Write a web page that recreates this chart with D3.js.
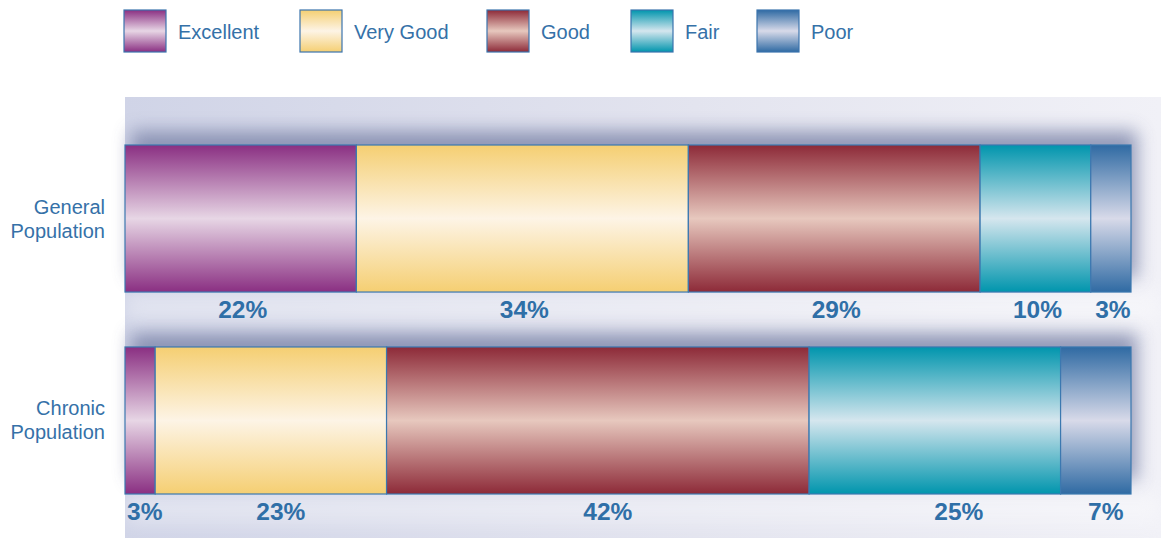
<!DOCTYPE html>
<html>
<head>
<meta charset="utf-8">
<script src="https://cdn.jsdelivr.net/npm/d3@7"></script>
<style>
  body { margin: 0; background: #fff; }
  svg text { font-family: "Liberation Sans", Arial, sans-serif; }
</style>
</head>
<body>
<svg id="chart" width="1161" height="538"></svg>
<script>
// data
const ratings = ['Excellent', 'Very Good', 'Good', 'Fair', 'Poor'];
const groups = [['General', 'Population'], ['Chronic', 'Population']];
// segment lengths as drawn (percent)
const generalShare = [23, 33, 29, 11, 4];
const chronicShare = [3, 23, 42, 25, 7];
// printed percentages
const generalLabels = ['22%', '34%', '29%', '10%', '3%'];
const chronicLabels = ['3%', '23%', '42%', '25%', '7%'];

const edgeColors = ['#8a2f82', '#f5cf72', '#8d2a38', '#0095ad', '#2f6aa3'];
const midColors = ['#e7d6e5', '#fdf4e6', '#e7c8be', '#d5e6ee', '#d8dae9'];

const svg = d3.select('#chart');
const defs = svg.append('defs');

ratings.forEach((r, i) => {
  const g = defs.append('linearGradient')
    .attr('id', 'grad' + i)
    .attr('x1', 0).attr('y1', 0).attr('x2', 0).attr('y2', 1);
  g.append('stop').attr('offset', '0%').attr('stop-color', edgeColors[i]);
  g.append('stop').attr('offset', '50%').attr('stop-color', midColors[i]);
  g.append('stop').attr('offset', '100%').attr('stop-color', edgeColors[i]);
});

const bg = defs.append('linearGradient').attr('id', 'bg')
  .attr('x1', 0).attr('y1', 0).attr('x2', 1).attr('y2', 0);
bg.append('stop').attr('offset', '0%').attr('stop-color', '#d0d4e7');
bg.append('stop').attr('offset', '55%').attr('stop-color', '#e3e4ef');
bg.append('stop').attr('offset', '100%').attr('stop-color', '#f1f1f7');

defs.append('filter').attr('id', 'blur')
  .attr('x', '-10%').attr('y', '-50%').attr('width', '120%').attr('height', '200%')
  .append('feGaussianBlur').attr('stdDeviation', 9);

const x = d3.scaleLinear().domain([0, 100]).range([125, 1131]);
const y = d3.scaleBand().domain([0, 1]).range([145, 494]).paddingInner(0.272);

// background panel
svg.append('rect')
  .attr('x', 125).attr('y', 97).attr('width', 1036).attr('height', 441)
  .attr('fill', 'url(#bg)');

const rows = [
  { share: generalShare, labels: generalLabels, name: groups[0] },
  { share: chronicShare, labels: chronicLabels, name: groups[1] }
];

// shadows behind bars
svg.selectAll('rect.shadow')
  .data(rows)
  .join('rect')
  .attr('class', 'shadow')
  .attr('x', x(0) + 6)
  .attr('y', (d, i) => y(i) - 14)
  .attr('width', x(100) - x(0))
  .attr('height', y.bandwidth())
  .attr('fill', '#7a83a8')
  .attr('opacity', 0.8)
  .attr('filter', 'url(#blur)');

// light band under each bar for labels
svg.selectAll('rect.band')
  .data(rows)
  .join('rect')
  .attr('class', 'band')
  .attr('x', x(0))
  .attr('y', (d, i) => y(i) + y.bandwidth())
  .attr('width', 1036)
  .attr('height', 30)
  .attr('fill', '#ffffff')
  .attr('opacity', 0.35)
  .attr('filter', 'url(#blur)');

rows.forEach((row, i) => {
  const stacked = d3.cumsum(row.share);
  const segs = row.share.map((v, k) => ({ k: k, x0: stacked[k] - v, x1: stacked[k], label: row.labels[k] }));
  const g = svg.append('g');

  g.selectAll('rect')
    .data(segs)
    .join('rect')
    .attr('x', d => x(d.x0))
    .attr('y', y(i))
    .attr('width', d => x(d.x1) - x(d.x0))
    .attr('height', y.bandwidth())
    .attr('fill', d => 'url(#grad' + d.k + ')')
    .attr('stroke', '#3b78b0')
    .attr('stroke-width', 1.2);

  // chronic labels sit a little right of centre in the original
  const shift = d => (i === 1 ? (d.k === 3 ? 24 : 10) : 2);

  g.selectAll('text.pct')
    .data(segs)
    .join('text')
    .attr('class', 'pct')
    .attr('x', d => i === 1 && d.k === 0 ? x(d.x0) + 2 : (x(d.x0) + x(d.x1)) / 2 + shift(d))
    .attr('y', y(i) + y.bandwidth() + 26)
    .attr('text-anchor', d => i === 1 && d.k === 0 ? 'start' : 'middle')
    .attr('font-size', 24.5)
    .attr('font-weight', 'bold')
    .attr('fill', '#2f6fa7')
    .text(d => d.label);

  const t = svg.append('text')
    .attr('x', 105)
    .attr('y', y(i) + y.bandwidth() / 2 - 5)
    .attr('text-anchor', 'end')
    .attr('font-size', 20)
    .attr('fill', '#3571a8');
  t.append('tspan').attr('x', 105).attr('dy', 0).text(row.name[0]);
  t.append('tspan').attr('x', 105).attr('dy', 24).text(row.name[1]);
});

// legend
const legendX = [124, 300, 487, 631, 757];
const legend = svg.append('g')
  .selectAll('g')
  .data(ratings)
  .join('g')
  .attr('transform', (d, i) => `translate(${legendX[i]},10)`);

legend.append('rect')
  .attr('width', 42).attr('height', 42)
  .attr('fill', (d, i) => `url(#grad${i})`)
  .attr('stroke', '#3b74ad')
  .attr('stroke-width', 1.2);

legend.append('text')
  .attr('x', 54)
  .attr('y', 29)
  .attr('font-size', 20)
  .attr('fill', '#3571a8')
  .text(d => d);
</script>
</body>
</html>
